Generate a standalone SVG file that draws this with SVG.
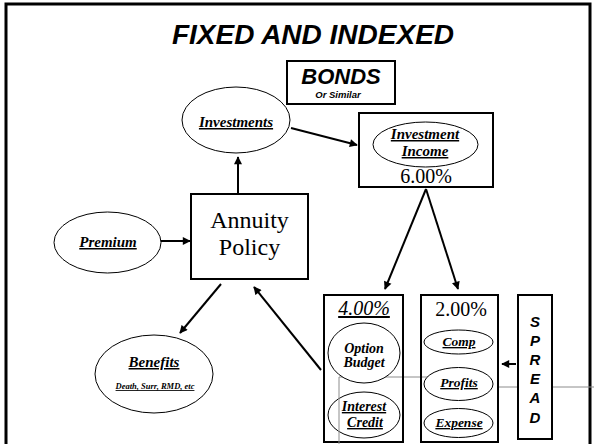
<svg xmlns="http://www.w3.org/2000/svg" width="594" height="444" viewBox="0 0 594 444">
<style>
.sans{font-family:"Liberation Sans",Arial,sans-serif;font-weight:bold;font-style:italic;text-anchor:middle;}
.serif{font-family:"Liberation Serif","Times New Roman",serif;text-anchor:middle;}
.lbl{font-family:"Liberation Serif","Times New Roman",serif;font-weight:bold;font-style:italic;text-decoration:underline;text-anchor:middle;}
.bi{font-family:"Liberation Serif","Times New Roman",serif;font-weight:bold;font-style:italic;text-anchor:middle;}
.box{fill:#fff;stroke:#000;stroke-width:2;}
.open{fill:none;stroke:#000;stroke-width:2;}
.ell{fill:#fff;stroke:#000;stroke-width:1;}
.arr{stroke:#000;stroke-width:2;fill:none;marker-end:url(#ah);}
.gray{stroke:#8c8c8c;stroke-width:1;fill:none;}
</style>
<defs>
<marker id="ah" viewBox="0 0 10 10" refX="9" refY="5" markerWidth="4.5" markerHeight="4" orient="auto" markerUnits="strokeWidth"><path d="M0,0 L10,5 L0,10 z" fill="#000"/></marker>
</defs>
<rect id="frame" x="6" y="4" width="584" height="460" fill="none" stroke="#000" stroke-width="3"/>
<text class="sans" x="313" y="44" font-size="28">FIXED AND INDEXED</text>
<g id="gray-under">
<line class="gray" x1="339" y1="377" x2="440" y2="377"/>
<line class="gray" x1="498" y1="387" x2="594" y2="387"/>
</g>
<g id="bonds">
<rect class="box" x="287" y="61" width="108" height="43"/>
<text class="sans" x="341" y="84" font-size="22">BONDS</text>
<text class="sans" x="338" y="98" font-size="9.5">Or Similar</text>
</g>
<g id="investments">
<ellipse class="ell" cx="236" cy="120" rx="54" ry="33"/>
<text class="lbl" x="236" y="127" font-size="15">Investments</text>
</g>
<g id="investment-income">
<rect class="box" x="359" y="113" width="134" height="74"/>
<ellipse class="ell" cx="425.5" cy="144.5" rx="52.5" ry="22.5"/>
<text class="lbl" x="425" y="139" font-size="15">Investment</text>
<text class="lbl" x="425" y="156" font-size="15">Income</text>
<text class="serif" x="426" y="183" font-size="20">6.00%</text>
</g>
<g id="premium">
<ellipse class="ell" cx="107.5" cy="242.5" rx="53.5" ry="30.5"/>
<text class="lbl" x="108" y="247" font-size="15">Premium</text>
</g>
<g id="annuity-policy">
<rect class="box" x="191" y="194" width="117" height="85"/>
<text class="serif" x="249.5" y="228" font-size="24">Annuity</text>
<text class="serif" x="249.5" y="255" font-size="24">Policy</text>
</g>
<g id="benefits">
<ellipse class="ell" cx="154" cy="374" rx="59" ry="39"/>
<text class="lbl" x="154" y="367" font-size="15">Benefits</text>
<text class="lbl" x="155" y="389" font-size="8.5">Death, Surr, RMD, etc</text>
</g>
<g id="option-box">
<rect class="open" x="324" y="295" width="79" height="147"/>
<text class="serif" x="364" y="315" font-size="20" font-style="italic" text-decoration="underline">4.00%</text>
<ellipse class="ell" cx="364" cy="353" rx="36" ry="30"/>
<text class="bi" x="364" y="353" font-size="14">Option</text>
<text class="bi" x="364" y="367" font-size="14">Budget</text>
<ellipse class="ell" cx="364" cy="415" rx="36" ry="23"/>
<text class="lbl" x="364" y="411" font-size="14">Interest</text>
<text class="lbl" x="365" y="427" font-size="14">Credit</text>
</g>
<g id="spread-box">
<rect class="open" x="421" y="295" width="77" height="147"/>
<text class="serif" x="461" y="316" font-size="20">2.00%</text>
<ellipse class="ell" cx="458.5" cy="342" rx="34.5" ry="12"/>
<text class="lbl" x="459" y="346" font-size="13.5">Comp</text>
<ellipse class="ell" cx="458.5" cy="384" rx="34.5" ry="16.5"/>
<text class="lbl" x="459" y="387" font-size="13.5">Profits</text>
<ellipse class="ell" cx="458.5" cy="423" rx="34.5" ry="14.5"/>
<text class="lbl" x="459" y="427" font-size="13.5">Expense</text>
</g>
<g id="spread">
<rect class="box" x="518" y="295" width="34" height="144"/>
<text class="sans" x="535" y="327" font-size="15">S</text>
<text class="sans" x="535" y="346" font-size="15">P</text>
<text class="sans" x="535" y="365" font-size="15">R</text>
<text class="sans" x="535" y="384" font-size="15">E</text>
<text class="sans" x="535" y="403" font-size="15">A</text>
<text class="sans" x="535" y="423" font-size="15">D</text>
</g>
<g id="gray-over">
<line class="gray" x1="339" y1="377" x2="339" y2="444"/>
</g>
<g id="connectors">
<line class="arr" x1="238" y1="194" x2="238" y2="157"/>
<line class="arr" x1="161" y1="241" x2="190" y2="241"/>
<line class="arr" x1="291" y1="128" x2="357" y2="145"/>
<line class="arr" x1="426" y1="189" x2="385" y2="289"/>
<line class="arr" x1="426" y1="189" x2="458" y2="289"/>
<line class="arr" x1="221" y1="284" x2="180" y2="333"/>
<line class="arr" x1="321" y1="370" x2="254" y2="287"/>
<line class="arr" x1="516" y1="364" x2="502" y2="364"/>
</g>
</svg>
